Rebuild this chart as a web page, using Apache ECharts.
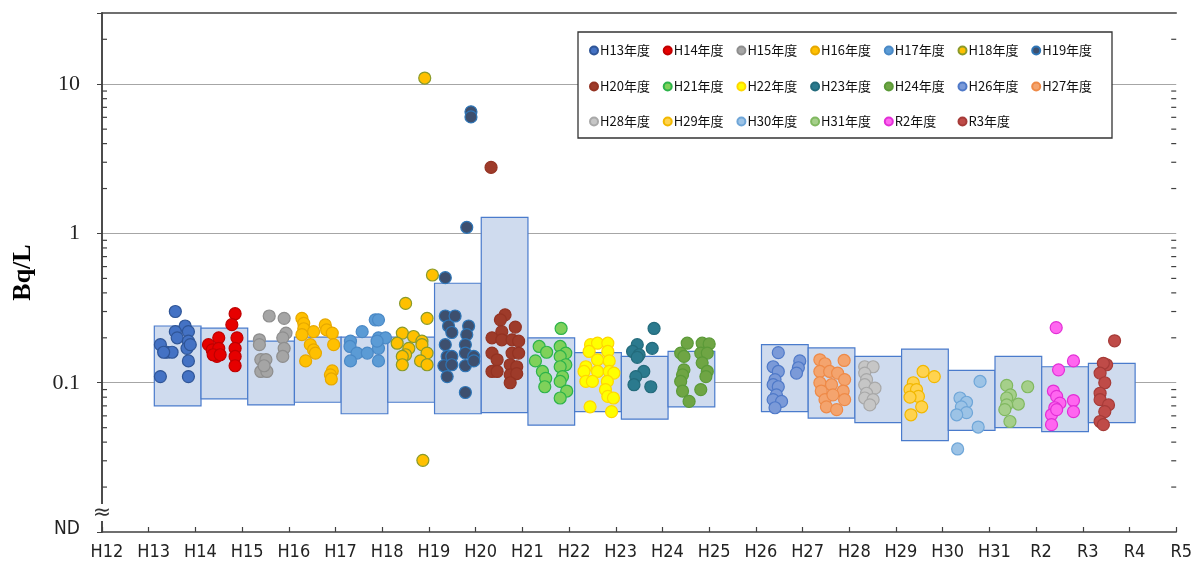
<!DOCTYPE html>
<html>
<head>
<meta charset="utf-8">
<script src="https://cdn.jsdelivr.net/npm/echarts@6/dist/echarts.min.js"></script>
<style>html,body{margin:0;padding:0;background:#fff}#c{width:1195px;height:566px}</style>
</head>
<body>
<div id="c"></div>
<script>
// ---- tick labels of the horizontal axis ----
const tickLabels = ['H12','H13','H14','H15','H16','H17','H18','H19','H20','H21','H22','H23','H24','H25','H26','H27','H28','H29','H30','H31','R2','R3','R4','R5'];
// ---- fiscal years shown ----
const years = ['H13','H14','H15','H16','H17','H18','H19','H20','H21','H22','H23','H24','H26','H27','H28','H29','H30','H31','R2','R3'];
// ---- box ranges (Bq/L) ----
const boxLow  = [0.070,0.078,0.071,0.074,0.062,0.074,0.062,0.063,0.052,0.064,0.057,0.069,0.064,0.058,0.054,0.041,0.048,0.050,0.047,0.054];
const boxHigh = [0.240,0.232,0.190,0.202,0.202,0.202,0.464,1.28,0.200,0.159,0.150,0.162,0.180,0.171,0.150,0.168,0.121,0.150,0.128,0.135];
// ---- measured values per year: [position within year (0..1), Bq/L] ----
const H13 = [[0.45,0.30],[0.66,0.24],[0.45,0.22],[0.49,0.20],[0.73,0.22],[0.13,0.18],[0.27,0.16],[0.38,0.16],[0.73,0.19],[0.70,0.17],[0.77,0.18],[0.73,0.14],[0.13,0.11],[0.73,0.11],[0.20,0.16]];
const H14 = [[0.73,0.29],[0.66,0.245],[0.38,0.20],[0.77,0.20],[0.16,0.18],[0.24,0.166],[0.38,0.17],[0.34,0.15],[0.73,0.17],[0.73,0.15],[0.73,0.13],[0.26,0.154],[0.41,0.154]];
const H15 = [[0.46,0.28],[0.78,0.27],[0.82,0.215],[0.75,0.20],[0.25,0.194],[0.25,0.18],[0.78,0.17],[0.75,0.15],[0.28,0.143],[0.39,0.143],[0.28,0.119],[0.41,0.119],[0.35,0.13]];
const H16 = [[0.16,0.27],[0.20,0.25],[0.20,0.23],[0.41,0.22],[0.16,0.21],[0.66,0.244],[0.69,0.226],[0.81,0.215],[0.84,0.18],[0.34,0.18],[0.41,0.166],[0.45,0.158],[0.24,0.14],[0.81,0.12],[0.77,0.113],[0.79,0.106]];
const H17 = [[0.45,0.22],[0.73,0.264],[0.80,0.264],[0.20,0.19],[0.19,0.175],[0.34,0.158],[0.56,0.158],[0.20,0.14],[0.80,0.20],[0.95,0.20],[0.80,0.17],[0.80,0.14],[0.77,0.19]];
const H18 = [[0.79,11.0],[0.955,0.527],[0.38,0.34],[0.84,0.27],[0.31,0.215],[0.20,0.184],[0.55,0.204],[0.73,0.19],[0.45,0.17],[0.73,0.18],[0.84,0.158],[0.38,0.154],[0.31,0.15],[0.31,0.132],[0.70,0.14],[0.84,0.132],[0.75,0.0302]];
const H19 = [[0.78,6.53],[0.78,6.04],[0.69,1.10],[0.23,0.506],[0.23,0.28],[0.44,0.28],[0.30,0.24],[0.37,0.217],[0.73,0.24],[0.69,0.21],[0.23,0.18],[0.66,0.18],[0.27,0.15],[0.37,0.15],[0.66,0.158],[0.84,0.15],[0.20,0.13],[0.37,0.132],[0.66,0.13],[0.84,0.14],[0.27,0.11],[0.66,0.086]];
const H20 = [[0.21,2.77],[0.51,0.285],[0.41,0.264],[0.44,0.22],[0.73,0.236],[0.23,0.20],[0.44,0.194],[0.66,0.194],[0.80,0.19],[0.23,0.158],[0.34,0.1425],[0.66,0.158],[0.80,0.158],[0.23,0.119],[0.34,0.119],[0.62,0.132],[0.76,0.128],[0.62,0.113],[0.76,0.115],[0.62,0.10]];
const H21 = [[0.71,0.231],[0.24,0.175],[0.40,0.16],[0.16,0.14],[0.31,0.119],[0.38,0.107],[0.36,0.094],[0.69,0.175],[0.81,0.158],[0.69,0.15],[0.81,0.132],[0.69,0.128],[0.74,0.11],[0.69,0.102],[0.83,0.088],[0.69,0.079]];
const H22 = [[0.34,0.18],[0.49,0.184],[0.71,0.184],[0.71,0.162],[0.31,0.162],[0.49,0.1425],[0.74,0.14],[0.24,0.128],[0.20,0.119],[0.49,0.119],[0.74,0.119],[0.84,0.116],[0.24,0.102],[0.38,0.102],[0.70,0.102],[0.66,0.09],[0.71,0.081],[0.83,0.079],[0.33,0.069],[0.79,0.064]];
const H23 = [[0.70,0.231],[0.34,0.18],[0.66,0.17],[0.24,0.162],[0.38,0.154],[0.34,0.148],[0.48,0.119],[0.31,0.11],[0.27,0.097],[0.63,0.094]];
const H24 = [[0.41,0.184],[0.73,0.184],[0.88,0.182],[0.27,0.158],[0.70,0.158],[0.84,0.158],[0.34,0.15],[0.73,0.136],[0.34,0.122],[0.84,0.119],[0.31,0.113],[0.81,0.11],[0.27,0.102],[0.31,0.088],[0.70,0.09],[0.45,0.075]];
const H26 = [[0.36,0.159],[0.82,0.14],[0.79,0.126],[0.75,0.116],[0.25,0.128],[0.36,0.119],[0.29,0.105],[0.25,0.097],[0.36,0.094],[0.32,0.083],[0.25,0.077],[0.43,0.075],[0.29,0.068]];
const H27 = [[0.25,0.1425],[0.36,0.134],[0.77,0.141],[0.25,0.119],[0.46,0.119],[0.63,0.116],[0.78,0.105],[0.25,0.10],[0.50,0.097],[0.28,0.088],[0.75,0.088],[0.36,0.077],[0.78,0.077],[0.39,0.069],[0.61,0.066],[0.53,0.083]];
const H28 = [[0.21,0.128],[0.39,0.128],[0.21,0.116],[0.25,0.105],[0.21,0.097],[0.43,0.092],[0.25,0.085],[0.21,0.079],[0.39,0.077],[0.32,0.071]];
const H29 = [[0.46,0.119],[0.70,0.11],[0.25,0.10],[0.18,0.09],[0.32,0.09],[0.36,0.081],[0.18,0.08],[0.43,0.069],[0.20,0.061]];
const H30 = [[0.68,0.102],[0.25,0.079],[0.39,0.074],[0.28,0.069],[0.39,0.063],[0.18,0.061],[0.64,0.0505],[0.20,0.036]];
const H31 = [[0.25,0.096],[0.70,0.094],[0.33,0.083],[0.25,0.079],[0.50,0.072],[0.25,0.071],[0.21,0.066],[0.32,0.055]];
const R2  = [[0.31,0.234],[0.68,0.14],[0.36,0.122],[0.25,0.088],[0.32,0.081],[0.68,0.076],[0.39,0.073],[0.28,0.068],[0.68,0.064],[0.21,0.061],[0.21,0.0524],[0.32,0.066]];
const R3  = [[0.56,0.191],[0.39,0.132],[0.32,0.135],[0.25,0.116],[0.35,0.10],[0.25,0.085],[0.25,0.077],[0.43,0.071],[0.35,0.064],[0.25,0.055],[0.32,0.0524]];
const points = [H13,H14,H15,H16,H17,H18,H19,H20,H21,H22,H23,H24,H26,H27,H28,H29,H30,H31,R2,R3];

// ---- styles ----
const fills   = ['#4472c4','#e60000','#a5a5a5','#ffc000','#5b9bd5','#ffc000','#3d4f6e','#9e3b2a','#7fd15a','#ffff00','#2b7a8e','#6fa544','#7b9ad8','#f4a46e','#c6c6c6','#ffd34f','#9cc3e6','#a5cf8a','#ff66f0','#bf4b48'];
const borders = ['#2f5597','#c00000','#8e8e8e','#e6a800','#4a89c6','#8a9a2a','#2e75b6','#943323','#2db34a','#ffd700','#236b7c','#5b9a38','#4f79c8','#ee8a48','#a8a8a8','#f2b800','#6fa6d8','#80b860','#e22fd6','#a63b38'];
const BOX_SHIFT = 0.12;
const narrow = "'DejaVu Sans Condensed','Liberation Sans Narrow',sans-serif";
const jp = "'Noto Sans CJK JP',sans-serif";
const AXIS = '#404040';

const chart = echarts.init(document.getElementById('c'), null, {renderer: 'canvas'});
const xMax = tickLabels.length - 1;

const boxData = years.map((y, i) => {
  const s = tickLabels.indexOf(y);
  return [s + BOX_SHIFT, s + 1 + BOX_SHIFT, boxLow[i], boxHigh[i]];
});
const minorVals = [];
[0.01, 0.1, 1].forEach(d => { for (let m = 2; m <= 9; m++) minorVals.push([0, +(m * d).toPrecision(3)]); });
minorVals.push([0, 20]);

const scatterSeries = years.map((y, i) => {
  const s = tickLabels.indexOf(y);
  return {
    name: y + '年度', type: 'scatter', z: 3,
    symbol: 'circle', symbolSize: 12,
    itemStyle: {color: fills[i], borderColor: borders[i], borderWidth: 1.2, opacity: 1},
    data: points[i].map(p => [s + BOX_SHIFT + p[0], p[1]])
  };
});

const legends = years.map((y, i) => ({
  data: [y + '年度'],
  left: 589 + (i % 7) * 73.7,
  top: [44, 80, 115][Math.floor(i / 7)],
  padding: 0, itemWidth: 8, itemHeight: 8, icon: 'circle',
  selectedMode: false, z: 20,
  textStyle: {fontFamily: jp, fontSize: 13, color: '#111', padding: [0, 0, 0, -3]}
}));

const isPow = (v, p) => Math.abs(v - p) < p * 1e-6;

chart.setOption({
  animation: false,
  backgroundColor: '#fff',
  grid: {left: 102, right: 17, top: 13, bottom: 34, containLabel: false},
  legend: legends,
  xAxis: [{
    type: 'value', min: 0, max: xMax, interval: 1,
    axisLine: {show: true, lineStyle: {color: AXIS, width: 1.5}},
    axisTick: {show: true, inside: true, length: 5, lineStyle: {color: AXIS, width: 1.2}},
    splitLine: {show: false},
    axisLabel: {formatter: v => tickLabels[Math.round(v)] || '', fontFamily: narrow, fontSize: 18, color: '#222', margin: 11, padding: [0, 0, 0, 10], showMinLabel: true, showMaxLabel: true}
  }, {
    type: 'value', min: 0, max: xMax, position: 'top',
    axisLine: {show: true, lineStyle: {color: AXIS, width: 1.5}},
    axisTick: {show: false}, axisLabel: {show: false}, splitLine: {show: false}
  }],
  yAxis: [{
    type: 'log', logBase: 10, min: 0.01, max: 30,
    name: 'Bq/L', nameLocation: 'middle', nameRotate: 90, nameGap: 66,
    nameTextStyle: {fontFamily: "'Liberation Serif',serif", fontWeight: 'bold', fontSize: 26, color: '#000'},
    axisLine: {show: true, lineStyle: {color: AXIS, width: 1.5}},
    axisTick: {show: false},
    splitLine: {show: true, lineStyle: {color: '#a6a6a6', width: 1.2}, showMinLine: false, showMaxLine: false},
    axisLabel: {
      showMinLabel: true, showMaxLabel: false, margin: 22,
      formatter: v => isPow(v, 0.01) ? '{nd|ND}' : isPow(v, 0.1) ? '0.1' : isPow(v, 1) ? '1' : isPow(v, 10) ? '10' : '',
      fontFamily: "'Liberation Serif',serif", fontSize: 22, color: '#222',
      rich: {nd: {fontFamily: narrow, fontSize: 19, color: '#222', padding: [0, 0, 6, 0]}}
    }
  }, {
    type: 'log', logBase: 10, min: 0.01, max: 30, position: 'right',
    axisLine: {show: true, lineStyle: {color: AXIS, width: 1.5}},
    axisTick: {show: true, inside: true, length: 5, lineStyle: {color: AXIS}},
    axisLabel: {show: false}, splitLine: {show: false}
  }],
  series: [{
    type: 'custom', z: 1, silent: true,
    encode: {x: [0, 1], y: [2, 3]},
    data: boxData,
    renderItem: (params, api) => {
      const p1 = api.coord([api.value(0), api.value(3)]);
      const p2 = api.coord([api.value(1), api.value(2)]);
      return {type: 'rect', shape: {x: p1[0], y: p1[1], width: p2[0] - p1[0], height: p2[1] - p1[1]},
        style: {fill: '#cfdbee', stroke: '#4a7bcc', lineWidth: 1.2}};
    }
  }, {
    type: 'custom', z: 5, silent: true,
    encode: {x: 0, y: 1},
    data: minorVals,
    renderItem: (params, api) => {
      const v = api.value(1);
      const pL = api.coord([0, v]);
      const pR = api.coord([xMax, v]);
      return {type: 'group', children: [
        {type: 'line', shape: {x1: pL[0], y1: pL[1], x2: pL[0] + 5, y2: pL[1]}, style: {stroke: AXIS, lineWidth: 1.2}},
        {type: 'line', shape: {x1: pR[0], y1: pR[1], x2: pR[0] - 5, y2: pR[1]}, style: {stroke: AXIS, lineWidth: 1.2}}
      ]};
    }
  }].concat(scatterSeries),
  graphic: [
    {type: 'rect', z: 10, shape: {x: 578, y: 32, width: 534, height: 106}, style: {fill: '#fff', stroke: '#333', lineWidth: 1.3}},
    {type: 'rect', z: 10, shape: {x: 96, y: 504, width: 12, height: 17}, style: {fill: '#fff'}},
    {type: 'text', z: 11, x: 102, y: 513, style: {text: '≈', fontSize: 22, fontFamily: 'DejaVu Sans', fill: '#333', align: 'center', verticalAlign: 'middle'}}
  ]
});
</script>
</body>
</html>
